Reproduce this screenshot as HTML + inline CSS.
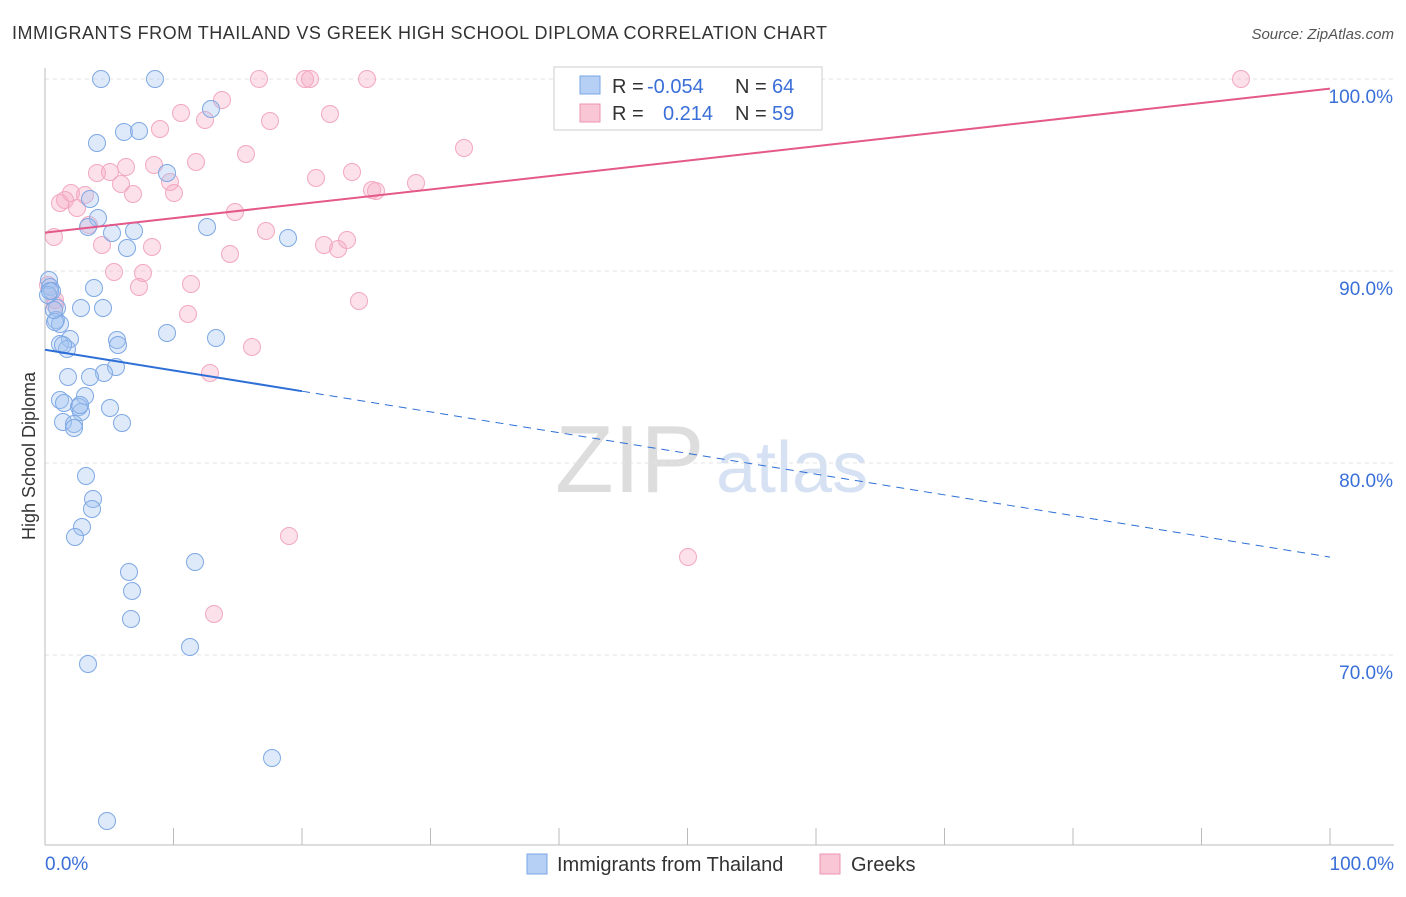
<!DOCTYPE html>
<html><head><meta charset="utf-8"><style>
body{margin:0;background:#fff;font-family:"Liberation Sans",sans-serif}
svg text{font-family:"Liberation Sans",sans-serif}
</style></head><body>
<svg id="chart" width="1406" height="892">
<text x="12" y="39" font-size="18" fill="#333" textLength="815" lengthAdjust="spacing">IMMIGRANTS FROM THAILAND VS GREEK HIGH SCHOOL DIPLOMA CORRELATION CHART</text>
<text x="1394" y="39" font-size="15" fill="#555" font-style="italic" text-anchor="end">Source: ZipAtlas.com</text>
<text x="35" y="456" font-size="18" fill="#333" transform="rotate(-90 35 456)" text-anchor="middle">High School Diploma</text>
<text x="555" y="492" font-size="96" fill="#ddd" font-family="Liberation Serif">ZIP</text>
<text x="716" y="492" font-size="72" fill="#d6e2f3">atlas</text>
<g id="grid"></g><g id="pts"></g><g id="trend"></g>
<g>
<rect x="554" y="67" width="268" height="63" fill="#fff" stroke="#ccc"/>
<rect x="580" y="76" width="20" height="18" fill="#b5d0f4" stroke="#7aa6e6"/>
<rect x="580" y="104" width="20" height="18" fill="#f9c6d5" stroke="#ee93b0"/>
<text x="612" y="93" font-size="20" fill="#333">R = <tspan x="647" fill="#3a6fd8">-0.054</tspan></text>
<text x="735" y="93" font-size="20" fill="#333">N = <tspan x="772" fill="#3a6fd8">64</tspan></text>
<text x="612" y="120" font-size="20" fill="#333">R = <tspan x="663" fill="#3a6fd8">0.214</tspan></text>
<text x="735" y="120" font-size="20" fill="#333">N = <tspan x="772" fill="#3a6fd8">59</tspan></text>
</g>
<g>
<rect x="527" y="854" width="20" height="20" fill="#b5d0f4" stroke="#7aa6e6"/>
<text x="557" y="871" font-size="20" fill="#333">Immigrants from Thailand</text>
<rect x="820" y="854" width="20" height="20" fill="#f9c6d5" stroke="#ee93b0"/>
<text x="851" y="871" font-size="20" fill="#333">Greeks</text>
</g>
</svg>
<script>
const xTicksLabels=["0.0%","100.0%"];
const yTicks=[100,90,80,70];
const blueX=[101,155,211,97,124,139,167,90,98,88,112,134,127,207,288,49,50,52,48,94,57,81,103,56,60,167,216,70,117,60,118,67,116,104,68,90,85,60,64,79,81,110,63,74,74,122,86,93,92,82,75,195,129,132,131,190,88,272,107,50,55,80,63,54].map(p=>(p-45)/12.85);
const blueY=[79,79,109,143,132,131,173,199,218,227,233,231,248,227,238,280,287,291,295,288,308,308,308,320,324,333,338,339,340,344,345,349,367,373,377,377,396,400,403,407,412,408,422,424,428,423,476,499,509,527,537,562,572,591,619,647,664,758,821,291,322,405,345,310].map(p=>100-(p-79)/19.2);
const pinkX=[574,259,305,310,367,710,768,1241,222,181,205,330,270,160,464,246,126,154,196,97,110,121,170,174,316,352,416,372,376,71,85,65,60,77,133,235,89,54,266,102,152,230,324,338,347,114,143,191,139,359,188,252,210,289,688,214,55,48,55].map(p=>(p-45)/12.85);
const pinkY=[79,79,79,79,79,79,79,79,100,113,120,114,121,129,148,154,167,165,162,173,172,184,182,193,178,172,183,190,191,193,195,200,203,208,194,212,225,237,231,245,247,254,245,249,240,272,273,284,287,301,314,347,373,536,557,614,300,285,305].map(p=>100-(p-79)/19.2);
const blueTrend=[85.9,75.1];
const pinkTrend=[92.0,99.5];
const X=v=>45+v*12.85, Y=v=>79+(100-v)*19.2;
const NS="http://www.w3.org/2000/svg";
function mk(t,a,p){const e=document.createElementNS(NS,t);for(const k in a)e.setAttribute(k,a[k]);p.appendChild(e);return e;}
const g=document.getElementById('grid');
for(const t of yTicks){
 const l=mk('line',{x1:45,x2:1394,y1:Y(t),y2:Y(t),stroke:'#e3e3e3','stroke-dasharray':'4 4'},g);
 
 
 const tx=mk('text',{x:1393,y:Y(t)+24,'font-size':19,fill:'#3a6fd8','text-anchor':'end'},g);tx.textContent=t.toFixed(1)+'%';
 
 
}
const ax=mk('line',{x1:45,x2:1394,y1:845,y2:845,stroke:'#bbb'},g);


const ay=mk('line',{x1:45,x2:45,y1:68,y2:845,stroke:'#bbb'},g);


for(let i=0;i<=10;i++){const tk=mk('line',{x1:X(i*10),x2:X(i*10),y1:828,y2:845,stroke:'#bbb'},g);
 
 }
[[0,'start',45],[1,'end',1394]].forEach(([i,a,x])=>{const t=mk('text',{x:x,y:870,'font-size':19,fill:'#3a6fd8','text-anchor':a},g);t.textContent=xTicksLabels[i];
 
 });
const p=document.getElementById('pts');
pinkX.forEach((x,i)=>{const c=mk('circle',{cx:X(x),cy:Y(pinkY[i]),r:8.5,fill:'rgba(246,170,195,0.35)',stroke:'#f2a8c0','stroke-width':1},p);
 
 });
blueX.forEach((x,i)=>{const c=mk('circle',{cx:X(x),cy:Y(blueY[i]),r:8.5,fill:'rgba(160,195,240,0.35)',stroke:'#7ea8e4','stroke-width':1},p);
 
 });
const tr=document.getElementById('trend');
const bAt=v=>blueTrend[0]+(blueTrend[1]-blueTrend[0])*v/100;
let l1=mk('line',{x1:X(0),y1:Y(bAt(0)),x2:X(20),y2:Y(bAt(20)),stroke:'#2d6fd6','stroke-width':2},tr);


let l2=mk('line',{x1:X(20),y1:Y(bAt(20)),x2:X(100),y2:Y(bAt(100)),stroke:'#2d6fd6','stroke-width':1,'stroke-dasharray':'8 6'},tr);


let l3=mk('line',{x1:X(0),y1:Y(pinkTrend[0]),x2:X(100),y2:Y(pinkTrend[1]),stroke:'#e4588a','stroke-width':2},tr);


</script>
</body></html>
